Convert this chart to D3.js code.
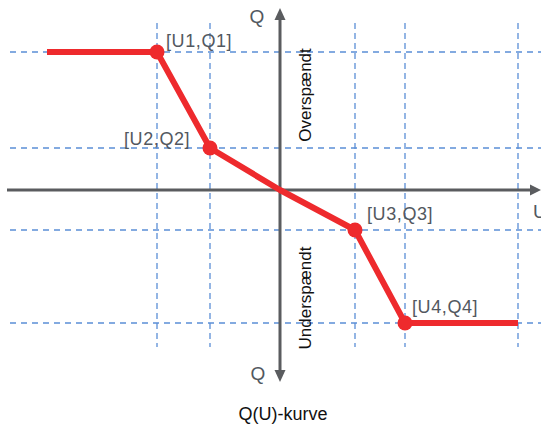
<!DOCTYPE html>
<html>
<head>
<meta charset="utf-8">
<script src="https://cdn.jsdelivr.net/npm/d3@7"></script>
<style>
  body { margin: 0; background: #fff; }
  svg { display: block; }
  text { font-family: "Liberation Sans", Arial, sans-serif; }
</style>
</head>
<body>
<div id="main"></div>
<script>
var w = 541;
var h = 428;

// Q(U) curve, break points and the flat ends
var uVals = [-23.3, -12.3, -7, 0, 7.5, 12.5, 23.8];
var qVals = [13.8, 13.8, 4.2, 0, -4, -13.3, -13.3];
var pointIdx = [1, 2, 4, 5];
var pointLabels = ["[U1,Q1]", "[U2,Q2]", "[U3,Q3]", "[U4,Q4]"];
var gridU = [-12.3, -7, 7.5, 12.5, 23.8];
var gridQ = [13.8, 4.2, -4, -13.3];

var x = d3.scaleLinear().domain([-27.3, 26.1]).range([7, 541]);
var y = d3.scaleLinear().domain([18.2, -19.2]).range([8, 382]);

var svg = d3.select("#main").append("svg")
  .attr("width", w)
  .attr("height", h);

var gridColor = "#5b8ed6";

// dashed guides
svg.selectAll("line.vgrid").data(gridU).enter().append("line")
  .attr("class", "vgrid")
  .attr("x1", function (d) { return x(d); })
  .attr("x2", function (d) { return x(d); })
  .attr("y1", y(16.7))
  .attr("y2", y(-15.7))
  .attr("stroke", gridColor)
  .attr("stroke-width", 1.3)
  .attr("stroke-dasharray", "6,4");

svg.selectAll("line.hgrid").data(gridQ).enter().append("line")
  .attr("class", "hgrid")
  .attr("x1", x(-27))
  .attr("x2", x(26.1))
  .attr("y1", function (d) { return y(d); })
  .attr("y2", function (d) { return y(d); })
  .attr("stroke", gridColor)
  .attr("stroke-width", 1.3)
  .attr("stroke-dasharray", "6,5");

// axes
var axisColor = "#5a5c5f";
svg.append("line")
  .attr("x1", x(-27.3)).attr("x2", x(25.2))
  .attr("y1", y(0)).attr("y2", y(0))
  .attr("stroke", axisColor).attr("stroke-width", 3);
svg.append("path")
  .attr("d", "M" + x(26.1) + "," + y(0) + "l-11,-5.5v11z")
  .attr("fill", axisColor);

svg.append("line")
  .attr("x1", x(0)).attr("x2", x(0))
  .attr("y1", y(17)).attr("y2", y(-18))
  .attr("stroke", axisColor).attr("stroke-width", 3);
svg.append("path")
  .attr("d", "M" + x(0) + "," + y(18.2) + "l-5.5,12h11z")
  .attr("fill", axisColor);
svg.append("path")
  .attr("d", "M" + x(0) + "," + y(-19.2) + "l-5.5,-12h11z")
  .attr("fill", axisColor);

// axis letters
var labelColor = "#525860";
svg.append("text").attr("x", x(0) - 23).attr("y", y(18.2) + 15)
  .attr("text-anchor", "middle").attr("font-size", 19).attr("fill", labelColor).text("Q");
svg.append("text").attr("x", x(0) - 22).attr("y", y(-19.2) - 2)
  .attr("text-anchor", "middle").attr("font-size", 19).attr("fill", labelColor).text("Q");
svg.append("text").attr("x", x(25.3)).attr("y", y(0) + 28)
  .attr("text-anchor", "start").attr("font-size", 19).attr("fill", labelColor).text("U");

// region labels
svg.append("text")
  .attr("transform", "translate(" + (x(0) + 31) + "," + y(9.5) + ") rotate(-90)")
  .attr("text-anchor", "middle").attr("font-size", 17).attr("fill", "#111")
  .text("Overspændt");
svg.append("text")
  .attr("transform", "translate(" + (x(0) + 31) + "," + y(-10.8) + ") rotate(-90)")
  .attr("text-anchor", "middle").attr("font-size", 17).attr("fill", "#111")
  .text("Underspændt");

// the curve
var line = d3.line()
  .x(function (d) { return x(d[0]); })
  .y(function (d) { return y(d[1]); });
var pts = uVals.map(function (u, i) { return [u, qVals[i]]; });

svg.append("path")
  .datum(pts)
  .attr("d", line)
  .attr("fill", "none")
  .attr("stroke", "#ee2a2d")
  .attr("stroke-width", 6)
  .attr("stroke-linejoin", "round");

svg.selectAll("circle.pt").data(pointIdx).enter().append("circle")
  .attr("class", "pt")
  .attr("cx", function (i) { return x(uVals[i]); })
  .attr("cy", function (i) { return y(qVals[i]); })
  .attr("r", 7.5)
  .attr("fill", "#ee2a2d");

// point labels: offsets from each marker
var offs = [[9, -5], [-86, -3], [12, -10], [7, -10]];
svg.selectAll("text.pl").data(pointIdx).enter().append("text")
  .attr("class", "pl")
  .attr("x", function (i, k) { return x(uVals[i]) + offs[k][0]; })
  .attr("y", function (i, k) { return y(qVals[i]) + offs[k][1]; })
  .attr("font-size", 18)
  .attr("letter-spacing", 0.6)
  .attr("fill", labelColor)
  .text(function (i, k) { return pointLabels[k]; });

// caption
svg.append("text").attr("x", 283).attr("y", 420)
  .attr("text-anchor", "middle").attr("font-size", 18).attr("fill", "#111")
  .text("Q(U)-kurve");
</script>
</body>
</html>
